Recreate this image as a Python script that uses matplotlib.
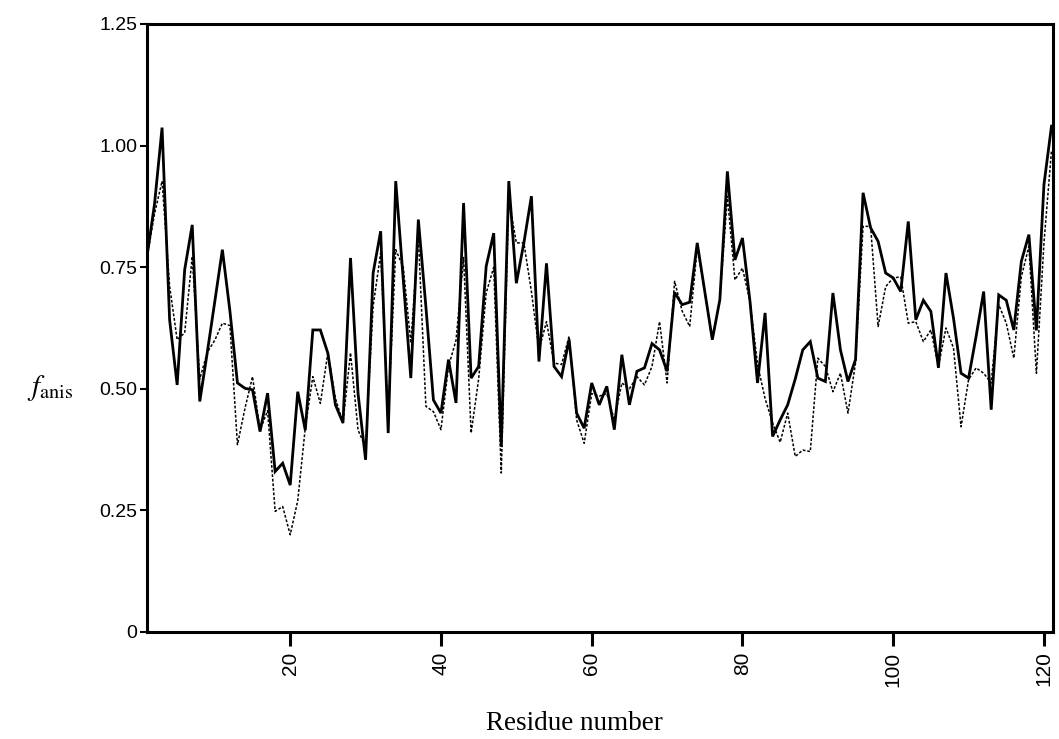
import matplotlib
matplotlib.use("Agg")
import matplotlib.pyplot as plt
import numpy as np

residues = list(range(1, 122))

f_anis_solid = [
    0.772, 0.88, 1.037, 0.642, 0.508, 0.745, 0.837, 0.474, 0.575, 0.68,
    0.786, 0.66, 0.512, 0.501, 0.498, 0.412, 0.491, 0.330, 0.347, 0.302,
    0.494, 0.415, 0.621, 0.621, 0.573, 0.467, 0.430, 0.769, 0.49, 0.354,
    0.738, 0.824, 0.409, 0.927, 0.724, 0.522, 0.848, 0.669, 0.477, 0.45,
    0.56, 0.471, 0.882, 0.522, 0.546, 0.752, 0.82, 0.381, 0.927, 0.717,
    0.80, 0.896, 0.556, 0.758, 0.546, 0.525, 0.601, 0.45, 0.419, 0.512,
    0.467, 0.505, 0.416, 0.57, 0.467, 0.536, 0.543, 0.593, 0.58, 0.536,
    0.698, 0.673, 0.678, 0.80, 0.70, 0.601, 0.683, 0.947, 0.765, 0.81,
    0.68, 0.512, 0.656, 0.402, 0.436, 0.467, 0.52, 0.58, 0.597, 0.522,
    0.515, 0.697, 0.58, 0.515, 0.56, 0.903, 0.831, 0.803, 0.738, 0.728,
    0.70, 0.844, 0.642, 0.682, 0.659, 0.543, 0.738, 0.645, 0.532, 0.522,
    0.608, 0.70, 0.457, 0.693, 0.682, 0.621, 0.762, 0.817, 0.62, 0.92,
    1.04,
]

f_anis_dashed = [
    0.77, 0.86, 0.927, 0.711, 0.601, 0.615, 0.772, 0.52, 0.575, 0.60,
    0.635, 0.63, 0.385, 0.46, 0.525, 0.415, 0.455, 0.248, 0.258, 0.20,
    0.27, 0.42, 0.525, 0.47, 0.575, 0.48, 0.43, 0.574, 0.415, 0.38,
    0.67, 0.779, 0.44, 0.786, 0.75, 0.594, 0.813, 0.464, 0.453, 0.416,
    0.546, 0.60, 0.77, 0.409, 0.52, 0.697, 0.75, 0.327, 0.89, 0.80,
    0.80, 0.70, 0.58, 0.638, 0.553, 0.55, 0.608, 0.436, 0.388, 0.49,
    0.485, 0.49, 0.436, 0.512, 0.50, 0.525, 0.508, 0.546, 0.638, 0.512,
    0.721, 0.66, 0.628, 0.79, 0.70, 0.60, 0.683, 0.896, 0.724, 0.748,
    0.68, 0.55, 0.48, 0.43, 0.39, 0.45, 0.361, 0.374, 0.371, 0.563,
    0.546, 0.494, 0.532, 0.45, 0.553, 0.834, 0.834, 0.628, 0.71, 0.728,
    0.73, 0.635, 0.638, 0.597, 0.621, 0.546, 0.625, 0.584, 0.422, 0.519,
    0.543, 0.532, 0.512, 0.673, 0.635, 0.563, 0.73, 0.793, 0.532, 0.80,
    0.99,
]

x_ticks = [20, 40, 60, 80, 100, 120]
y_ticks = [0, 0.25, 0.50, 0.75, 1.00, 1.25]
y_tick_labels = ["0", "0.25", "0.50", "0.75", "1.00", "1.25"]

plt.rcParams["mathtext.fontset"] = "stix"

W, H = 1059, 739
fig = plt.figure(figsize=(W / 100, H / 100), dpi=100)
fig.patch.set_facecolor("white")
ax = fig.add_axes([147 / W, 1 - 632 / H, (1053 - 147) / W, (632 - 24) / H])

ax.plot(residues, f_anis_dashed, color="black", lw=1.1,
        linestyle=(0, (1.8, 1.2)))
ax.plot(residues, f_anis_solid, color="black", lw=2.0,
        solid_joinstyle="miter")

ax.set_xlim(1, 121.2)
ax.set_ylim(0, 1.25)

ax.set_xticks(x_ticks)
ax.set_xticklabels([str(t) for t in x_ticks], rotation=90,
                   fontfamily="Liberation Sans", fontsize=15)
ax.set_yticks(y_ticks)
ax.set_yticklabels(y_tick_labels, fontfamily="Liberation Sans", fontsize=14)

ax.tick_params(axis="x", direction="out", length=10, width=2.2, pad=4)
ax.tick_params(axis="y", direction="out", length=5, width=1.5, pad=2)

for s in ax.spines.values():
    s.set_linewidth(2.2)
    s.set_color("black")

fig.text(574 / W, 1 - 724 / H, "Residue number", fontfamily="Liberation Serif",
         fontsize=19.5, ha="center", va="center")
fig.text(50 / W, 1 - 388 / H, r"$f_{\mathrm{anis}}$", fontsize=21,
         ha="center", va="center")

fig.savefig("out.png", dpi=100, facecolor="white")
